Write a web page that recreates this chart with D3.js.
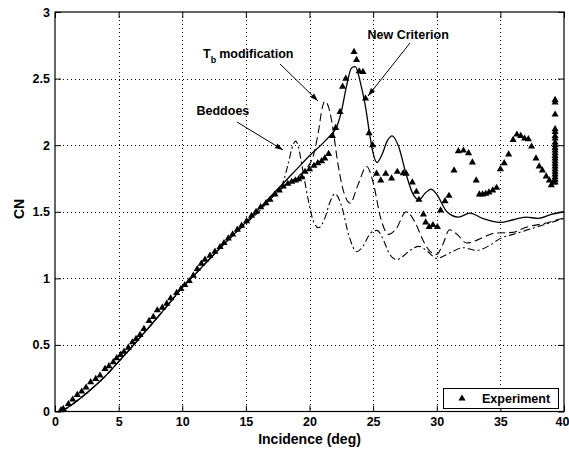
<!DOCTYPE html>
<html><head><meta charset="utf-8">
<script src="https://cdn.jsdelivr.net/npm/d3@7"></script>
<style>html,body{margin:0;padding:0;background:#fff;}svg{display:block;font-family:"Liberation Sans",Arial,Helvetica,sans-serif;font-weight:bold;}</style>
</head><body><svg id="c" width="569" height="452"></svg>
<script>
const xTicks = [0,5,10,15,20,25,30,35,40];
const yTicks = [0,0.5,1,1.5,2,2.5,3];
const yTickLabels = ["0","0.5","1","1.5","2","2.5","3"];

const newCritX = [0.5,1,2,3,4,5,6,7,8,9,10,11,12,13,14,15,16,17,18,19,20,21,21.6,22.1,22.5,22.9,23.3,23.6,24.0,24.4,24.75,25.0,25.3,25.7,26.1,26.5,27.0,27.6,28.15,28.6,29.1,29.55,30.0,30.8,31.7,32.6,33.6,35,36,37,38,39,40];
const newCritY = [0,0.03,0.1,0.18,0.27,0.375,0.48,0.59,0.70,0.815,0.93,1.03,1.13,1.23,1.325,1.42,1.52,1.62,1.72,1.82,1.92,2.01,2.07,2.13,2.25,2.44,2.58,2.59,2.47,2.29,2.07,1.94,1.87,1.93,2.03,2.07,1.99,1.78,1.63,1.59,1.64,1.67,1.63,1.50,1.46,1.49,1.45,1.42,1.44,1.46,1.45,1.48,1.50];

const tbX = [0.5,1,2,3,4,5,6,7,8,9,10,11,12,13,14,15,16,17,18,19,19.8,20.3,20.7,21.0,21.2,21.45,21.8,22.2,22.6,23.2,23.8,24.5,25.0,25.6,26.2,26.8,27.6,28.3,28.9,29.5,30.0,30.5,31.0,31.6,32.35,33.0,33.7,34.6,36,36.9,38.6,39.7,40];
const tbY = [0,0.03,0.1,0.18,0.27,0.375,0.48,0.59,0.70,0.815,0.93,1.03,1.13,1.23,1.325,1.41,1.50,1.60,1.69,1.76,1.83,1.92,2.10,2.28,2.33,2.30,2.15,1.88,1.68,1.565,1.70,1.84,1.72,1.45,1.33,1.37,1.50,1.42,1.29,1.20,1.18,1.26,1.365,1.33,1.265,1.28,1.31,1.34,1.345,1.38,1.415,1.445,1.45];

const bedX = [0.5,1,2,3,4,5,6,7,8,9,10,11,12,13,14,15,16,17,17.8,18.3,18.7,18.9,19.1,19.4,19.9,20.3,20.7,21.2,21.6,22.0,22.5,23.1,23.7,24.2,24.8,25.3,25.8,26.3,26.85,27.4,27.9,28.6,29.3,30.0,30.6,31.2,32.1,33.1,34.2,35,36,37,38,39,40];
const bedY = [0,0.03,0.1,0.18,0.27,0.375,0.48,0.59,0.70,0.815,0.93,1.03,1.13,1.23,1.325,1.415,1.51,1.61,1.69,1.85,2.0,2.03,2.0,1.85,1.59,1.43,1.38,1.45,1.57,1.635,1.55,1.32,1.20,1.24,1.34,1.36,1.29,1.18,1.14,1.17,1.21,1.24,1.20,1.15,1.17,1.20,1.23,1.21,1.25,1.30,1.33,1.36,1.39,1.42,1.45];

const expX = [0.47,0.65,1.05,1.39,1.75,2.1,2.44,2.8,3.2,3.54,3.93,4.24,4.58,4.85,5.16,5.42,5.76,6.08,6.37,6.68,6.99,7.39,7.73,8.04,8.43,8.78,9.09,9.56,9.9,10.2,10.55,10.87,11.18,11.5,11.79,12.18,12.57,12.97,13.28,13.62,13.96,14.33,14.67,15.06,15.45,15.8,16.16,16.58,16.9,17.29,17.63,17.94,18.3,18.6,18.9,19.15,19.4,19.65,20.0,20.35,20.65,20.95,21.2,21.5,21.8,22.06,22.4,22.6,22.85,23.5,23.7,23.9,24.2,24.4,24.68,24.96,25.27,25.6,25.99,26.45,26.9,27.37,27.6,28.08,28.4,28.6,28.95,29.13,29.4,29.7,30.05,30.3,30.65,30.96,31.36,31.7,32.1,32.5,32.8,33.1,33.35,33.6,33.85,34.1,34.4,34.7,35.0,35.3,35.65,36.0,36.3,36.6,36.9,37.2,37.45,37.8,38.05,38.3,38.6,38.85,39.0,39.15,39.3,39.3,39.3,39.3,39.3,39.3,39.3,39.3,39.3,39.3,39.3,39.3,39.3,39.3,39.3,39.3,39.3,39.3,39.3,39.3,39.3,39.3,39.3];
const expY = [0.01,0.02,0.056,0.09,0.124,0.15,0.18,0.22,0.245,0.27,0.32,0.34,0.37,0.40,0.425,0.45,0.48,0.52,0.545,0.575,0.62,0.68,0.71,0.76,0.78,0.81,0.85,0.89,0.92,0.95,0.98,1.02,1.07,1.11,1.14,1.17,1.20,1.235,1.265,1.30,1.33,1.365,1.395,1.43,1.47,1.50,1.535,1.565,1.59,1.63,1.66,1.69,1.71,1.725,1.735,1.745,1.76,1.80,1.82,1.845,1.865,1.88,1.90,1.935,2.07,2.13,2.25,2.44,2.50,2.70,2.64,2.555,2.55,2.35,2.09,2.0,1.786,1.735,1.786,1.75,1.80,1.79,1.786,1.72,1.65,1.59,1.48,1.42,1.385,1.40,1.385,1.51,1.58,1.62,1.81,1.955,1.96,1.94,1.87,1.735,1.63,1.63,1.635,1.645,1.66,1.68,1.82,1.865,1.93,2.04,2.08,2.07,2.05,2.045,1.99,1.90,1.84,1.81,1.765,1.735,1.70,1.72,2.34,2.32,2.23,2.12,2.10,2.07,2.05,2.02,2.0,1.98,1.96,1.94,1.92,1.90,1.88,1.86,1.84,1.82,1.80,1.78,1.76,1.74,1.72];

const svg = d3.select("#c");
const x = d3.scaleLinear().domain([0,40]).range([55,564]);
const y = d3.scaleLinear().domain([0,3]).range([411.5,12]);

// grid
const grid = svg.append("g").attr("stroke","#000").attr("stroke-width",1).attr("stroke-dasharray","1,3");
grid.selectAll(".gx").data(xTicks.slice(1,-1)).join("line")
  .attr("x1",d=>Math.round(x(d))+0.5).attr("x2",d=>Math.round(x(d))+0.5).attr("y1",y(3)).attr("y2",y(0));
grid.selectAll(".gy").data(yTicks.slice(1,-1)).join("line")
  .attr("y1",d=>Math.round(y(d))+0.5).attr("y2",d=>Math.round(y(d))+0.5).attr("x1",x(0)).attr("x2",x(40));

// axes
const fs = "12.5px";
const xAxis = d3.axisBottom(x).tickValues(xTicks).tickSize(-6).tickPadding(6).tickFormat(d3.format("d"));
const yAxis = d3.axisLeft(y).tickValues(yTicks).tickSize(-6).tickPadding(5).tickFormat((d,i)=>yTickLabels[i]);
const gx = svg.append("g").attr("transform",`translate(0,${y(0)})`).call(xAxis);
const gy = svg.append("g").attr("transform",`translate(${x(0)},0)`).call(yAxis);
const gx2 = svg.append("g").attr("transform",`translate(0,${y(3)})`).call(d3.axisTop(x).tickValues(xTicks).tickSize(-6).tickFormat(""));
const gy2 = svg.append("g").attr("transform",`translate(${x(40)},0)`).call(d3.axisRight(y).tickValues(yTicks).tickSize(-6).tickFormat(""));
[gx,gy,gx2,gy2].forEach(g=>{g.selectAll(".domain").remove();g.selectAll("line").attr("stroke","#000");
  g.selectAll("text").attr("fill","#000").style("font-size",fs).style("font-weight","bold").style("font-family","'Liberation Sans',Arial,sans-serif");});
// keep the last x label inside the window
gx.selectAll(".tick").filter(d=>d===40).select("text").attr("text-anchor","end").attr("x",5);
svg.append("rect").attr("x",x(0)).attr("y",y(3)).attr("width",x(40)-x(0)).attr("height",y(0)-y(3))
  .attr("fill","none").attr("stroke","#000").attr("stroke-width",1.2);

// lines
const line = d3.line().x(d=>x(d[0])).y(d=>y(d[1])).curve(d3.curveMonotoneX);
function series(xs,ys){return xs.map((v,i)=>[v,ys[i]]);}
svg.append("path").datum(series(bedX,bedY)).attr("d",line).attr("fill","none").attr("stroke","#000").attr("stroke-width",1.1).attr("stroke-dasharray","7,3,2,3");
svg.append("path").datum(series(tbX,tbY)).attr("d",line).attr("fill","none").attr("stroke","#000").attr("stroke-width",1.1).attr("stroke-dasharray","8,4");
svg.append("path").datum(series(newCritX,newCritY)).attr("d",line).attr("fill","none").attr("stroke","#000").attr("stroke-width",1.3);

// experiment
const tri = d3.symbol().type(d3.symbolTriangle).size(22);
svg.append("g").selectAll("path").data(series(expX,expY)).join("path")
  .attr("d",tri).attr("transform",d=>`translate(${x(d[0])},${y(d[1])})`).attr("fill","#000");

// annotations
const ann = svg.append("g").style("font-size",fs).attr("fill","#000");
ann.append("text").attr("x",367.5).attr("y",39).text("New Criterion");
ann.append("text").attr("x",196.5).attr("y",115).text("Beddoes");
const tb = ann.append("text").attr("x",203).attr("y",58);
tb.append("tspan").text("T");
tb.append("tspan").attr("dy",5).style("font-size","9px").text("b");
tb.append("tspan").attr("dy",-5).attr("dx",3).text("modification");

function arrow(x1,y1,x2,y2){
  svg.append("line").attr("x1",x1).attr("y1",y1).attr("x2",x2).attr("y2",y2).attr("stroke","#000").attr("stroke-width",1);
  const a=Math.atan2(y2-y1,x2-x1), L=8, W=2.6;
  const bx=x2-L*Math.cos(a), by=y2-L*Math.sin(a);
  const p=[[x2,y2],[bx+W*Math.sin(a),by-W*Math.cos(a)],[bx-W*Math.sin(a),by+W*Math.cos(a)]];
  svg.append("path").attr("d","M"+p.map(q=>q.join(",")).join("L")+"Z").attr("fill","#000");
}
arrow(410,43,368,96);
arrow(280,64,318,101);
arrow(237,122,283,150);

// legend
svg.append("rect").attr("x",443.5).attr("y",388.5).attr("width",115).attr("height",20).attr("fill","#fff").attr("stroke","#000").attr("stroke-width",1);
svg.append("path").attr("d",tri).attr("transform","translate(462,398.5)").attr("fill","#000");
svg.append("text").attr("x",482).attr("y",403).style("font-size",fs).text("Experiment");

// axis titles
svg.append("text").attr("x",309.5).attr("y",444).attr("text-anchor","middle").style("font-size","14px").text("Incidence (deg)");
svg.append("text").attr("transform","translate(24,209) rotate(-90)").attr("text-anchor","middle").style("font-size","14px").text("CN");
</script></body></html>
